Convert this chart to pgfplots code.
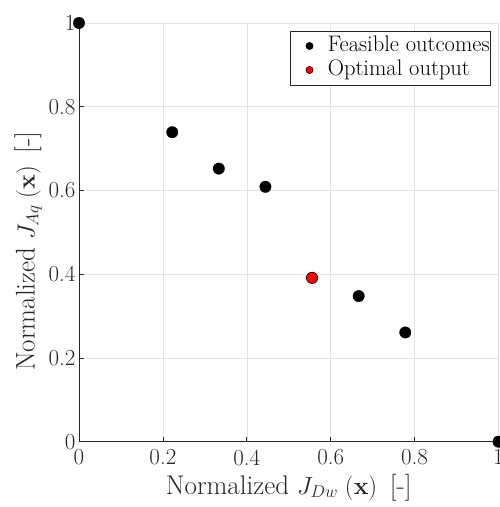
\documentclass[border=0pt]{standalone}
\usepackage{pgfplots}
\pgfplotsset{compat=1.18}
\usetikzlibrary{calc}
\definecolor{gridgray}{HTML}{E3E3E3}
\definecolor{axisgray}{HTML}{262626}

\begin{document}
\begin{tikzpicture}
\begin{axis}[
    name=ax,
    scale only axis,
    width=419.5bp, height=418.7bp,
    xmin=0, xmax=1, ymin=0, ymax=1,
    axis lines*=left,
    axis line style={axisgray, line width=0.7bp},
    tick style={axisgray, line width=0.7bp},
    tick align=inside,
    major tick length=5bp,
    xtick={0,0.2,...,1}, ytick={0,0.2,...,1},
    xticklabels={0,0.2,0.4,0.6,0.8,1},
    yticklabels={0,0.2,0.4,0.6,0.8,1},
    tick label style={font=\fontsize{23bp}{27bp}\selectfont, text=axisgray},
    xticklabel style={yshift=-4.5bp},
    label style={font=\fontsize{27bp}{31bp}\selectfont, text=axisgray},
    xlabel={Normalized $J_{Dw}\;(\mathbf{x})$ \,[-]},
    ylabel={Normalized $J_{Aq}\;(\mathbf{x})$ \,[-]},
    xlabel style={yshift=-1.5bp},
    ylabel style={at={(ticklabel cs:0.455)}},
    xmajorgrids, ymajorgrids,
    major grid style={draw=gridgray, line width=0.6bp},
    clip=false,
    legend image code/.code={%
        \path (-18bp,0bp) (7bp,0bp);
        \draw[mark size=3.6bp,#1] plot coordinates {(0bp,0bp)};},
    legend style={at={(0.982,0.9816)}, anchor=north east,
        font=\fontsize{22.5bp}{27bp}\selectfont,
        draw=axisgray, line width=0.6bp, fill=white,
        inner xsep=1bp, inner ysep=4.5bp, row sep=3bp, column sep=11bp,
        nodes={inner sep=0bp, text height=16bp, text depth=5bp}},
    legend cell align=left,
]
\addplot[only marks, mark=*, mark size=5.7bp, color=black]
    coordinates {(0,1) (0.2222,0.7391) (0.3333,0.6522) (0.4444,0.6087)
                 (0.6667,0.3478) (0.7778,0.2609) (1,0)};
\addlegendentry{Feasible outcomes}
\addplot[only marks, mark=*, mark size=5.7bp, draw=black, fill=red,
    mark options={draw=black, fill=red, line width=0.6bp}]
    coordinates {(0.5556,0.3913)};
\addlegendentry{Optimal output}
\end{axis}
\pgfresetboundingbox
\path[use as bounding box] ($(ax.south west)+(-79bp,-65.3bp)$) rectangle ($(ax.north east)+(1.5bp,23bp)$);
\end{tikzpicture}
\end{document}
